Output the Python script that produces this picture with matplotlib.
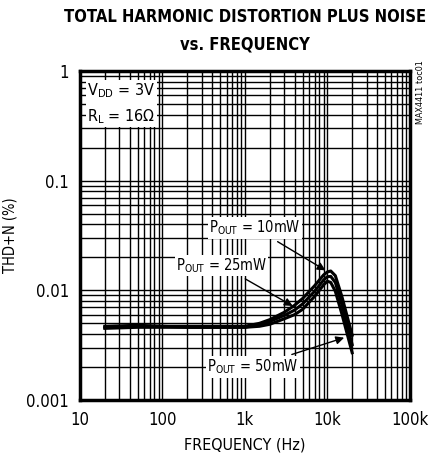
import matplotlib
matplotlib.use('Agg')
from matplotlib import pyplot as plt
from matplotlib import font_manager
from matplotlib.ticker import LogLocator, FixedLocator, FixedFormatter, NullFormatter

# Data (Hz, THD+N %)
freq = [20, 50, 100, 200, 500, 1000, 1500, 2000, 3000, 4000, 5000, 7000, 9000, 10000, 11000, 12500, 15000, 20000]
thd_10mw = [0.0047, 0.0048, 0.0047, 0.0047, 0.0047, 0.0047, 0.0050, 0.0054, 0.0063, 0.0073, 0.0084, 0.0110, 0.0138, 0.0147, 0.0150, 0.0136, 0.0088, 0.0039]
thd_25mw = [0.0046, 0.0047, 0.0047, 0.0046, 0.0046, 0.0046, 0.0049, 0.0052, 0.0059, 0.0066, 0.0075, 0.0098, 0.0124, 0.0133, 0.0134, 0.0118, 0.0074, 0.0032]
thd_50mw = [0.0045, 0.0046, 0.0046, 0.0046, 0.0046, 0.0046, 0.0047, 0.0049, 0.0055, 0.0060, 0.0067, 0.0088, 0.0112, 0.0121, 0.0118, 0.0098, 0.0061, 0.0027]

xticks = [10, 100, 1000, 10000, 100000]
xtick_labels = ['10', '100', '1k', '10k', '100k']
yticks = [0.001, 0.01, 0.1, 1]
ytick_labels = ['0.001', '0.01', '0.1', '1']

# look for a narrow face, the datasheet uses a condensed Helvetica
narrow = None
for f in font_manager.fontManager.ttflist:
    if f.name in ('Liberation Sans Narrow', 'DejaVu Sans Condensed') or \
            (f.name == 'DejaVu Sans' and f.stretch == 'condensed'):
        narrow = f.name
        break

if narrow:
    plt.rcParams['font.family'] = [narrow, 'DejaVu Sans']
    plt.rcParams['font.stretch'] = 'condensed'
    k = 1.0
else:
    plt.rcParams['font.family'] = ['Liberation Sans', 'DejaVu Sans']
    k = 0.86
plt.rcParams['mathtext.fontset'] = 'custom'
plt.rcParams['mathtext.rm'] = plt.rcParams['font.family'][0]

fig = plt.figure(figsize=(4.30, 4.59), dpi=100)
ax = fig.add_axes([0.186, 0.1285, 0.767, 0.717])

for y in (thd_10mw, thd_25mw, thd_50mw):
    ax.plot(freq, y, color='black', lw=2.2, zorder=3)

ax.set_xscale('log')
ax.set_yscale('log')
ax.set_xlim(10, 100000)
ax.set_ylim(0.001, 1)

ax.xaxis.set_major_locator(FixedLocator(xticks))
ax.xaxis.set_major_formatter(FixedFormatter(xtick_labels))
ax.yaxis.set_major_locator(FixedLocator(yticks))
ax.yaxis.set_major_formatter(FixedFormatter(ytick_labels))
ax.xaxis.set_minor_locator(LogLocator(base=10, subs=range(2, 10), numticks=20))
ax.yaxis.set_minor_locator(LogLocator(base=10, subs=range(2, 10), numticks=20))
ax.xaxis.set_minor_formatter(NullFormatter())
ax.yaxis.set_minor_formatter(NullFormatter())
ax.tick_params(which='both', length=0, labelsize=12 * k, pad=8)

ax.grid(which='both', color='black', lw=1.0)
for s in ax.spines.values():
    s.set_linewidth(2.5)

ax.set_xlabel('FREQUENCY (Hz)', fontsize=11.5 * k, labelpad=6)
ax.set_ylabel('THD+N (%)', fontsize=10.5 * k, labelpad=6)

tsize = 11.9 if narrow else 11.3
fig.text(0.57, 0.962, 'TOTAL HARMONIC DISTORTION PLUS NOISE', ha='center', va='center',
         fontsize=tsize, fontweight='heavy')
fig.text(0.57, 0.903, 'vs. FREQUENCY', ha='center', va='center', fontsize=tsize, fontweight='heavy')

box = dict(facecolor='white', edgecolor='none', pad=1.0)
ax.text(12.3, 0.8, '$\\mathrm{V_{DD}}$ = 3V\n$\\mathrm{R_L}$ = 16\u03a9', fontsize=11.5 * k, va='top',
        ha='left', linespacing=1.5, bbox=box, zorder=4)
fig.text(0.977, 0.80, 'MAX4411 toc01', rotation=90, fontsize=6.5, ha='center', va='center')

lsize = 10.5 * k
arrow = dict(arrowstyle='-|>', color='black', lw=1, shrinkA=4, shrinkB=0, mutation_scale=12)
ax.annotate('$\\mathrm{P_{OUT}}$ = 10mW', xy=(9500, 0.0152), xytext=(1320, 0.037),
            fontsize=lsize, ha='center', va='center', bbox=box, zorder=5, arrowprops=arrow)
ax.annotate('$\\mathrm{P_{OUT}}$ = 25mW', xy=(3800, 0.0072), xytext=(520, 0.0169),
            fontsize=lsize, ha='center', va='center', bbox=box, zorder=5, arrowprops=arrow)
ax.annotate('$\\mathrm{P_{OUT}}$ = 50mW', xy=(16000, 0.0037), xytext=(1250, 0.002),
            fontsize=lsize, ha='center', va='center', bbox=box, zorder=5, arrowprops=arrow)

fig.savefig('out.png', dpi=100)
